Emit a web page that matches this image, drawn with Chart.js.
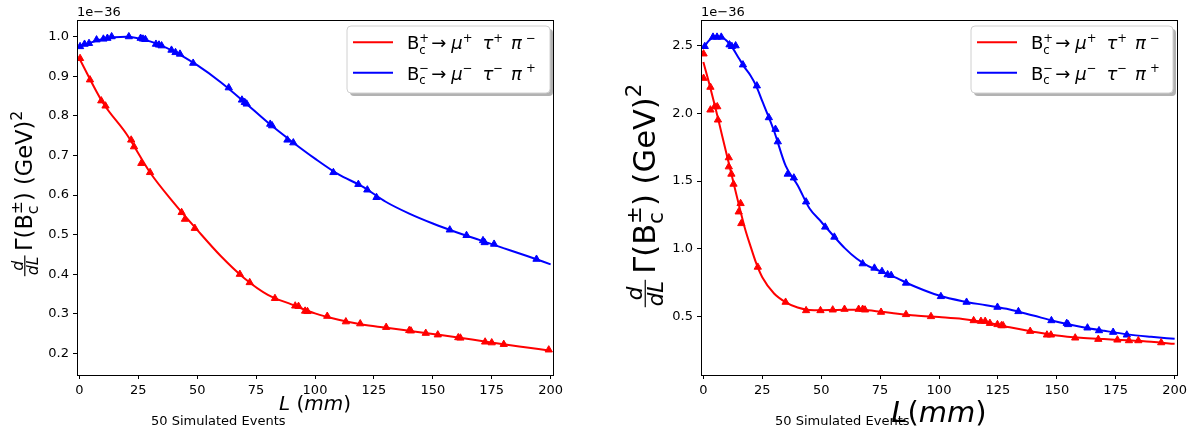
<!DOCTYPE html>
<html>
<head>
<meta charset="utf-8">
<script src="https://cdn.jsdelivr.net/npm/chart.js@4.4.1/dist/chart.umd.min.js"></script>
<style>
  body { margin: 0; background: #fff; width: 1196px; height: 436px; overflow: hidden; position: relative; }
  canvas { position: absolute; top: 0; }
  #leftChart { left: 0; }
  #rightChart { left: 598px; }
</style>
</head>
<body>
<canvas id="leftChart" width="598" height="436"></canvas>
<canvas id="rightChart" width="598" height="436"></canvas>
<script>
// ---- data (units of 1e-36, L in mm) ----
const xTicks = [0, 25, 50, 75, 100, 125, 150, 175, 200];
const leftYTicks = [0.2, 0.3, 0.4, 0.5, 0.6, 0.7, 0.8, 0.9, 1.0];
const rightYTicks = [0.5, 1.0, 1.5, 2.0, 2.5];

// left panel, simulated events
const leftPlusX = [0.3, 4.5, 9.3, 11.1, 22, 23.2, 26.3, 30, 43.4, 44.8, 49, 68.1, 72.3, 83, 91.6, 93, 95.8, 96.8, 105.2, 113.1, 119.2, 130.2, 140, 140.7, 147, 152.1, 160.8, 161.7, 172.2, 175, 180.1, 199.2];
const leftPlusY = [0.945, 0.891, 0.838, 0.825, 0.739, 0.722, 0.680, 0.657, 0.556, 0.539, 0.516, 0.400, 0.379, 0.339, 0.320, 0.319, 0.307, 0.306, 0.294, 0.280, 0.275, 0.266, 0.258, 0.257, 0.251, 0.247, 0.240, 0.239, 0.229, 0.227, 0.223, 0.209];
const leftMinusX = [0.3, 2.2, 4.1, 7.3, 10.2, 11.9, 13.7, 21, 26, 27, 28, 32.5, 33.8, 34.9, 39.1, 40.8, 42.7, 48.3, 63.4, 69, 70.2, 71, 81, 81.8, 88.3, 90.8, 107.8, 118.4, 122.2, 126.1, 157.2, 164.3, 171.3, 172, 176, 194];
const leftMinusY = [0.975, 0.981, 0.983, 0.992, 0.994, 0.996, 1.0, 1.0, 0.996, 0.994, 0.993, 0.981, 0.979, 0.977, 0.966, 0.960, 0.956, 0.933, 0.871, 0.840, 0.834, 0.830, 0.779, 0.775, 0.739, 0.732, 0.657, 0.627, 0.613, 0.594, 0.512, 0.498, 0.485, 0.480, 0.476, 0.438];

// left panel, fitted curves (read every 10 mm)
const leftCurveX = [0, 10, 20, 30, 40, 50, 60, 70, 80, 90, 100, 110, 120, 130, 140, 150, 160, 170, 180, 190, 200];
const leftPlusCurve = [0.945, 0.833, 0.754, 0.657, 0.581, 0.512, 0.446, 0.390, 0.348, 0.324, 0.301, 0.285, 0.273, 0.265, 0.257, 0.249, 0.241, 0.232, 0.223, 0.215, 0.207];
const leftMinusCurve = [0.975, 0.994, 1.0, 0.988, 0.963, 0.928, 0.885, 0.835, 0.783, 0.736, 0.692, 0.652, 0.622, 0.583, 0.553, 0.528, 0.506, 0.486, 0.466, 0.446, 0.425];

// right panel, simulated events
const rightPlusX = [0.1, 0.1, 3.0, 3.0, 4.8, 5.9, 6.2, 10.8, 10.8, 11.9, 12.8, 15.8, 15.0, 16.1, 23.1, 34.9, 43.6, 49.7, 54.9, 59.9, 65.9, 67.6, 68.6, 75.4, 86.0, 96.6, 114.7, 117.8, 119.6, 121.6, 124.8, 126.5, 127.2, 138.7, 145.8, 147.5, 157.8, 167.6, 175.7, 180.6, 184.6, 194.3];
const rightPlusY = [2.44, 2.26, 2.194, 2.026, 2.05, 2.05, 1.952, 1.673, 1.606, 1.552, 1.478, 1.335, 1.273, 1.187, 0.865, 0.606, 0.544, 0.544, 0.549, 0.554, 0.554, 0.554, 0.549, 0.532, 0.515, 0.500, 0.470, 0.465, 0.465, 0.450, 0.441, 0.433, 0.433, 0.391, 0.364, 0.364, 0.342, 0.332, 0.327, 0.322, 0.322, 0.307];
const rightMinusX = [0.6, 4.1, 5.8, 7.6, 11.1, 12.1, 13.7, 16.8, 22.7, 27.8, 30.6, 31.6, 35.8, 38.4, 43.6, 51.7, 55.6, 67.6, 72.6, 75.8, 78.2, 79.7, 86.0, 100.8, 111.7, 124.8, 133.7, 147.7, 154.2, 154.8, 163, 167.9, 173.9, 179.7];
const rightMinusY = [2.495, 2.564, 2.564, 2.564, 2.507, 2.495, 2.5, 2.359, 2.204, 1.969, 1.883, 1.791, 1.552, 1.524, 1.347, 1.161, 1.087, 0.890, 0.858, 0.833, 0.809, 0.804, 0.747, 0.648, 0.606, 0.569, 0.537, 0.470, 0.450, 0.441, 0.416, 0.396, 0.384, 0.364];

// right panel, fitted curves
const rightCurveX = [0, 2.5, 5, 7.5, 10, 12.5, 15, 17.5, 20, 22.5, 25, 30, 35, 40, 45, 50, 55, 60, 65, 70, 75, 80, 90, 100, 110, 120, 130, 140, 150, 160, 170, 180, 190, 200];
const rightPlusCurve = [2.38, 2.22, 2.05, 1.87, 1.69, 1.51, 1.33, 1.16, 1.02, 0.89, 0.79, 0.67, 0.605, 0.566, 0.548, 0.546, 0.548, 0.550, 0.550, 0.546, 0.536, 0.526, 0.508, 0.496, 0.482, 0.456, 0.420, 0.388, 0.360, 0.343, 0.333, 0.324, 0.313, 0.298];
const rightMinusCurve = [2.48, 2.54, 2.565, 2.565, 2.535, 2.48, 2.41, 2.34, 2.28, 2.20, 2.09, 1.87, 1.61, 1.47, 1.30, 1.20, 1.10, 1.005, 0.928, 0.872, 0.835, 0.80, 0.72, 0.655, 0.613, 0.583, 0.552, 0.507, 0.462, 0.425, 0.395, 0.368, 0.35, 0.335];

const RED = '#ff0000';
const BLUE = '#0000ff';
const FONT = "'DejaVu Sans', sans-serif";
Chart.defaults.font.family = FONT;

function pts(xs, ys) {
    return xs.map((x, i) => ({ x: x, y: ys[i] }));
}
function fnt(size, italic) {
    return (italic ? 'italic ' : '') + size + 'px ' + FONT;
}

// draw a row of text pieces (sub/superscripts, fractions, gaps); returns width
function drawRun(ctx, x, y, parts, draw) {
    let cx = x, lastStart = x, lastEnd = x;
    parts.forEach(p => {
        if (p.gap) {
            cx += p.gap;
            lastStart = cx; lastEnd = cx;
            return;
        }
        if (p.frac) {
            ctx.font = fnt(p.size, true);
            const wn = ctx.measureText(p.num).width;
            const wd = ctx.measureText(p.den).width;
            const w = Math.max(wn, wd) + 2;
            const barY = y - p.main * 0.32;
            if (draw) {
                ctx.fillText(p.num, cx + (w - wn) / 2, barY - p.main * 0.1);
                ctx.fillText(p.den, cx + (w - wd) / 2, barY + p.size * 0.82);
                ctx.fillRect(cx, barY - 0.6, w, 1.2);
            }
            cx += w + p.main * 0.2;
            lastStart = cx; lastEnd = cx;
            return;
        }
        ctx.font = fnt(p.size, p.it);
        const w = ctx.measureText(p.t).width;
        const sx = p.stack ? lastStart : cx;
        if (draw) ctx.fillText(p.t, sx, y + (p.dy || 0));
        if (p.stack) {
            cx = Math.max(lastEnd, sx + w);
        } else {
            lastStart = sx;
            cx = sx + w;
        }
        lastEnd = cx;
    });
    return cx - x;
}

function legendParts(S, sign, other) {
    const s = S * 0.65;
    const up = -S * 0.42;
    return [
        { t: 'B', size: S },
        { t: 'c', size: s, dy: S * 0.25 },
        { t: sign, size: s, dy: up, stack: true },
        { gap: 2 },
        { t: '\u2192', size: S },
        { gap: 5 },
        { t: '\u03bc', size: S, it: true },
        { t: sign, size: s, dy: up },
        { gap: 10 },
        { t: '\u03c4', size: S, it: true },
        { t: sign, size: s, dy: up },
        { gap: 8 },
        { t: '\u03c0', size: S, it: true },
        { gap: 4 },
        { t: other, size: s, dy: up }
    ];
}

function yLabelParts(S) {
    const s = S * 0.7;
    return [
        { frac: true, num: 'd', den: 'dL', size: s, main: S },
        { t: '\u0393(B', size: S },
        { t: 'c', size: s, dy: S * 0.25 },
        { t: '\u00b1', size: s, dy: -S * 0.45, stack: true },
        { t: ') (GeV)', size: S },
        { t: '2', size: s, dy: -S * 0.45 }
    ];
}

function roundRect(ctx, x, y, w, h, r) {
    ctx.beginPath();
    ctx.moveTo(x + r, y);
    ctx.arcTo(x + w, y, x + w, y + h, r);
    ctx.arcTo(x + w, y + h, x, y + h, r);
    ctx.arcTo(x, y + h, x, y, r);
    ctx.arcTo(x, y, x + w, y, r);
    ctx.closePath();
}

// extra matplotlib-like decorations for one panel
function decorations(o) {
    return {
        id: 'decor',
        afterDraw(chart) {
            const ctx = chart.ctx;
            const a = chart.chartArea;
            ctx.save();
            ctx.fillStyle = '#000';
            ctx.textBaseline = 'alphabetic';

            // frame
            ctx.strokeStyle = '#000';
            ctx.lineWidth = 1;
            ctx.strokeRect(Math.round(a.left) + 0.5, Math.round(a.top) + 0.5, Math.round(a.right - a.left), Math.round(a.bottom - a.top));

            // offset text
            ctx.font = fnt(13);
            ctx.fillText('1e\u221236', a.left, 16);

            // x label
            const xp = o.xLabel;
            const wX = drawRun(ctx, 0, 0, xp, false);
            drawRun(ctx, (a.left + a.right) / 2 - wX / 2, o.xLabelY, xp, true);

            // footnote
            ctx.font = fnt(13);
            ctx.fillText('50 Simulated Events', o.noteX, 425);

            // y label (rotated)
            const yp = yLabelParts(o.ySize);
            const wY = drawRun(ctx, 0, 0, yp, false);
            ctx.save();
            ctx.translate(o.yLabelX, (a.top + a.bottom) / 2 + o.yShift);
            ctx.rotate(-Math.PI / 2);
            drawRun(ctx, -wY / 2, 0, yp, true);
            ctx.restore();

            // legend with shadow
            const b = o.legend;
            ctx.fillStyle = 'rgba(0,0,0,0.3)';
            roundRect(ctx, b.x + 3, b.y + 3, b.w, b.h, 4);
            ctx.fill();
            ctx.fillStyle = '#fff';
            roundRect(ctx, b.x, b.y, b.w, b.h, 4);
            ctx.fill();
            ctx.strokeStyle = '#d0d0d0';
            ctx.stroke();
            const rows = [
                { color: RED, parts: legendParts(18, '+', '\u2212'), dy: 16.3 },
                { color: BLUE, parts: legendParts(18, '\u2212', '+'), dy: 46.7 }
            ];
            rows.forEach(r => {
                ctx.strokeStyle = r.color;
                ctx.lineWidth = 2;
                ctx.beginPath();
                ctx.moveTo(b.x + 6, b.y + r.dy);
                ctx.lineTo(b.x + 46, b.y + r.dy);
                ctx.stroke();
                ctx.fillStyle = '#000';
                drawRun(ctx, b.x + 60, b.y + r.dy + 7, r.parts, true);
            });
            ctx.restore();
        }
    };
}

function makePanel(canvasId, cfg) {
    const axisStyle = {
        grid: { display: true, drawOnChartArea: false, drawTicks: true, tickLength: 4, color: '#000' },
        border: { display: true, color: '#000', width: 1 }
    };
    return new Chart(document.getElementById(canvasId), {
        type: 'scatter',
        data: {
            datasets: [
                {
                    data: pts(cfg.plusX, cfg.plusY),
                    pointStyle: 'triangle', pointRadius: 4.2, pointHoverRadius: 4.2,
                    backgroundColor: RED, borderColor: RED, borderWidth: 1
                },
                {
                    data: pts(cfg.minusX, cfg.minusY),
                    pointStyle: 'triangle', pointRadius: 4.2, pointHoverRadius: 4.2,
                    backgroundColor: BLUE, borderColor: BLUE, borderWidth: 1
                },
                {
                    data: pts(cfg.curveX, cfg.plusCurve),
                    showLine: true, pointRadius: 0, borderColor: RED, borderWidth: 2,
                    cubicInterpolationMode: 'monotone', fill: false
                },
                {
                    data: pts(cfg.curveX, cfg.minusCurve),
                    showLine: true, pointRadius: 0, borderColor: BLUE, borderWidth: 2,
                    cubicInterpolationMode: 'monotone', fill: false
                }
            ]
        },
        options: {
            responsive: false,
            animation: false,
            layout: { padding: { top: 20, right: cfg.padRight, left: 0, bottom: 0 } },
            plugins: { legend: { display: false }, tooltip: { enabled: false } },
            scales: {
                x: {
                    type: 'linear', min: -1, max: 201,
                    afterBuildTicks: s => { s.ticks = xTicks.map(v => ({ value: v })); },
                    afterFit: s => { s.height = 61; },
                    ticks: { autoSkip: false, maxRotation: 0, padding: 4, color: '#000', font: { size: 13 }, callback: v => String(v) },
                    ...axisStyle
                },
                y: {
                    type: 'linear', min: cfg.yMin, max: cfg.yMax,
                    afterBuildTicks: s => { s.ticks = cfg.yTicks.map(v => ({ value: v })); },
                    afterFit: s => { s.width = cfg.yWidth; },
                    ticks: { autoSkip: false, padding: 4, color: '#000', font: { size: 13 }, callback: v => v.toFixed(1) },
                    ...axisStyle
                }
            }
        },
        plugins: [decorations(cfg.decor)]
    });
}

makePanel('leftChart', {
    plusX: leftPlusX, plusY: leftPlusY, minusX: leftMinusX, minusY: leftMinusY,
    curveX: leftCurveX, plusCurve: leftPlusCurve, minusCurve: leftMinusCurve,
    yMin: 0.1455, yMax: 1.042, yTicks: leftYTicks, yWidth: 77, padRight: 45,
    decor: {
        xLabel: [{ t: 'L', size: 20, it: true }, { t: ' (', size: 20 }, { t: 'mm', size: 20, it: true }, { t: ')', size: 20 }],
        xLabelY: 410, noteX: 151, yLabelX: 32, ySize: 22.5, yShift: -4,
        legend: { x: 347, y: 26, w: 203, h: 67 }
    }
});

makePanel('rightChart', {
    plusX: rightPlusX, plusY: rightPlusY, minusX: rightMinusX, minusY: rightMinusY,
    curveX: rightCurveX, plusCurve: rightPlusCurve, minusCurve: rightMinusCurve,
    yMin: 0.068, yMax: 2.69, yTicks: rightYTicks, yWidth: 103, padRight: 19,
    decor: {
        xLabel: [{ t: 'L', size: 29, it: true }, { t: '(', size: 29 }, { t: 'mm', size: 29, it: true }, { t: ')', size: 29 }],
        xLabelY: 422, noteX: 177, yLabelX: 57, ySize: 30.5, yShift: -2,
        legend: { x: 373, y: 26, w: 202, h: 67 }
    }
});
</script>
</body>
</html>
